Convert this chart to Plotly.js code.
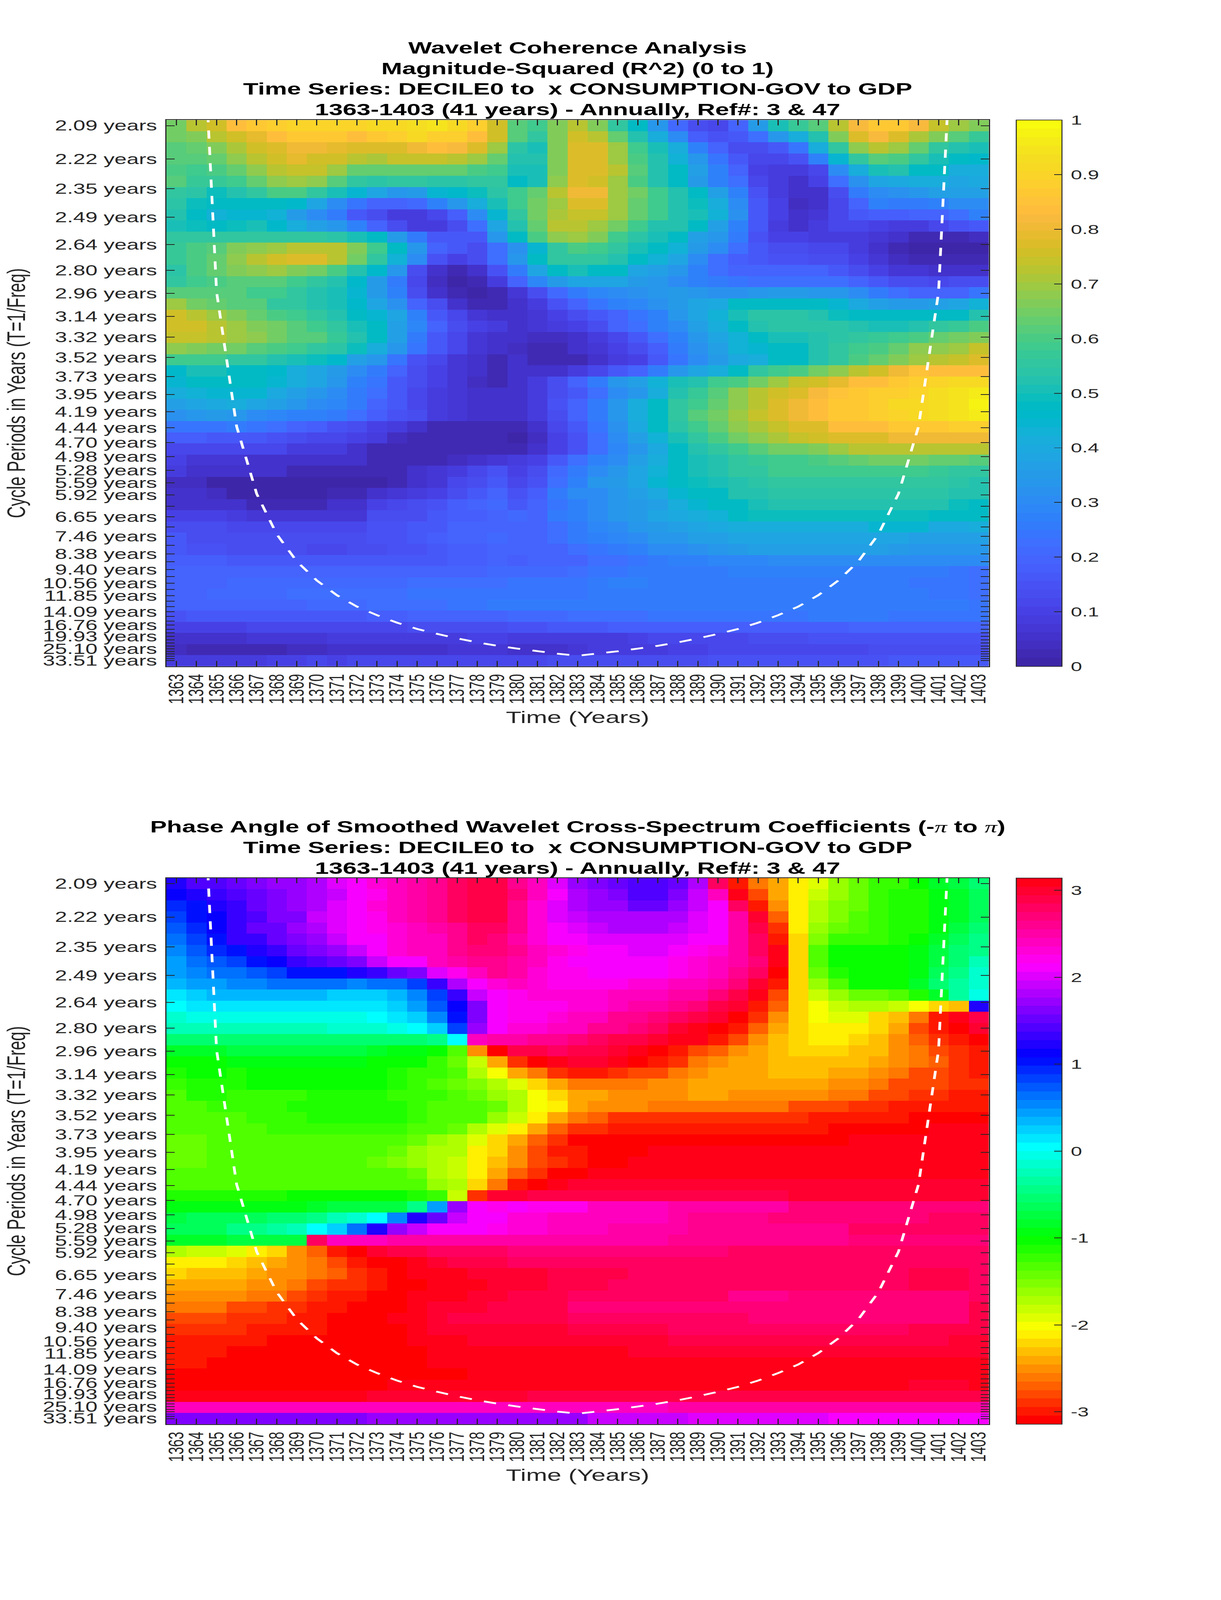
<!DOCTYPE html>
<html><head><meta charset="utf-8">
<script src="https://cdn.plot.ly/plotly-3.0.1.min.js"></script>
<style>html,body{margin:0;padding:0;background:#fff;overflow:hidden}</style></head>
<body><div id="chart" style="width:3125px;height:6252px"></div>
<script>
const years=[1363,1364,1365,1366,1367,1368,1369,1370,1371,1372,1373,1374,1375,1376,1377,1378,1379,1380,1381,1382,1383,1384,1385,1386,1387,1388,1389,1390,1391,1392,1393,1394,1395,1396,1397,1398,1399,1400,1401,1402,1403];
const periods=[2.09,2.22,2.35,2.49,2.64,2.80,2.96,3.14,3.32,3.52,3.73,3.95,4.19,4.44,4.70,4.98,5.28,5.59,5.92,6.27,6.65,7.04,7.46,7.90,8.38,8.87,9.40,9.96,10.56,11.18,11.85,12.55,13.30,14.09,14.93,15.82,16.76,17.76,18.81,19.93,21.12,22.37,23.70,25.10,26.60,28.18,29.86,31.63,33.51];
const periodLabels=["2.09 years","2.22 years","2.35 years","2.49 years","2.64 years","2.80 years","2.96 years","3.14 years","3.32 years","3.52 years","3.73 years","3.95 years","4.19 years","4.44 years","4.70 years","4.98 years","5.28 years","5.59 years","5.92 years","","6.65 years","","7.46 years","","8.38 years","","9.40 years","","10.56 years","","11.85 years","","","14.09 years","","","16.76 years","","","19.93 years","","","","25.10 years","","","","","33.51 years"];
const coiYears=[1364,1365,1366,1367,1368,1369,1370,1371,1372,1373,1374,1375,1376,1377,1378,1379,1380,1381,1382,1383,1384,1385,1386,1387,1388,1389,1390,1391,1392,1393,1394,1395,1396,1397,1398,1399,1400,1401,1402];
const coiPeriods=[1.47,2.95,4.42,5.89,7.36,8.84,10.3,11.8,13.3,14.7,16.2,17.7,19.1,20.6,22.1,23.6,25,26.5,28,29.4,28,26.5,25,23.6,22.1,20.6,19.1,17.7,16.2,14.7,13.3,11.8,10.3,8.84,7.36,5.89,4.42,2.95,1.47];
const coherence=[
[.65,.72,.76,.83,.86,.88,.9,.9,.9,.9,.91,.92,.93,.94,.92,.88,.76,.62,.58,.66,.72,.66,.56,.47,.33,.21,.13,.12,.2,.35,.5,.57,.62,.72,.82,.87,.87,.82,.74,.7,.67],
[.65,.66,.72,.76,.79,.84,.87,.87,.86,.84,.86,.88,.91,.89,.88,.84,.75,.62,.55,.67,.76,.73,.63,.53,.42,.3,.18,.15,.17,.22,.33,.42,.53,.67,.77,.82,.77,.71,.66,.61,.57],
[.62,.63,.66,.71,.76,.78,.81,.81,.79,.78,.77,.77,.81,.83,.82,.77,.69,.54,.51,.66,.77,.77,.7,.58,.5,.42,.28,.19,.13,.13,.17,.24,.42,.56,.68,.73,.7,.63,.56,.53,.5],
[.62,.62,.63,.68,.72,.76,.79,.76,.76,.73,.71,.74,.74,.74,.72,.7,.63,.53,.52,.66,.77,.78,.7,.6,.53,.43,.33,.24,.17,.12,.11,.15,.27,.44,.56,.62,.6,.56,.5,.47,.46],
[.6,.58,.6,.64,.68,.72,.74,.74,.7,.63,.63,.63,.63,.63,.63,.6,.58,.51,.51,.66,.77,.77,.72,.62,.52,.47,.37,.27,.19,.1,.08,.08,.12,.31,.42,.5,.52,.48,.47,.42,.42],
[.62,.57,.57,.59,.64,.68,.69,.68,.62,.56,.54,.55,.55,.54,.54,.56,.56,.48,.5,.68,.78,.76,.7,.6,.52,.47,.35,.28,.22,.11,.08,.06,.1,.23,.32,.38,.4,.42,.42,.38,.4],
[.56,.54,.49,.53,.56,.6,.6,.56,.5,.44,.38,.34,.35,.44,.46,.49,.54,.59,.63,.72,.8,.8,.7,.65,.58,.52,.47,.37,.27,.15,.08,.05,.06,.14,.25,.3,.32,.33,.36,.36,.37],
[.54,.49,.47,.47,.48,.47,.46,.38,.31,.24,.2,.19,.21,.28,.33,.42,.5,.58,.65,.7,.77,.77,.7,.63,.58,.52,.49,.42,.3,.16,.1,.04,.06,.12,.2,.27,.26,.26,.28,.3,.3],
[.53,.47,.43,.44,.45,.43,.35,.3,.26,.16,.13,.09,.09,.12,.18,.3,.44,.56,.65,.71,.74,.74,.7,.64,.58,.53,.5,.43,.32,.17,.1,.05,.07,.12,.16,.18,.18,.2,.2,.22,.28],
[.51,.49,.47,.49,.5,.46,.41,.36,.33,.28,.2,.13,.09,.09,.13,.22,.38,.52,.63,.72,.72,.7,.65,.58,.53,.52,.47,.37,.27,.16,.09,.06,.09,.12,.12,.1,.09,.09,.12,.15,.17],
[.56,.56,.56,.56,.56,.56,.56,.55,.54,.51,.47,.35,.25,.16,.16,.17,.33,.47,.6,.68,.69,.66,.58,.54,.51,.47,.37,.33,.25,.15,.1,.1,.09,.09,.09,.07,.05,.03,.03,.03,.04],
[.57,.6,.62,.66,.68,.7,.72,.73,.72,.67,.58,.47,.33,.2,.16,.14,.22,.32,.45,.55,.6,.58,.55,.5,.48,.43,.35,.3,.23,.17,.14,.13,.12,.11,.09,.06,.03,.01,.01,.01,.01],
[.57,.6,.64,.68,.72,.75,.77,.77,.72,.65,.55,.43,.3,.15,.1,.13,.22,.33,.47,.55,.56,.56,.53,.47,.43,.38,.3,.23,.18,.16,.15,.15,.14,.13,.1,.07,.04,.03,.03,.02,.03],
[.54,.6,.64,.67,.68,.7,.67,.65,.6,.52,.46,.33,.14,.05,.03,.05,.15,.26,.38,.47,.5,.48,.47,.39,.36,.33,.27,.22,.19,.19,.19,.19,.19,.17,.14,.1,.07,.07,.06,.05,.06],
[.55,.59,.6,.62,.62,.62,.58,.55,.53,.46,.35,.26,.12,.04,.01,.03,.08,.19,.29,.35,.38,.38,.38,.35,.33,.31,.27,.25,.24,.23,.23,.23,.23,.22,.19,.16,.13,.13,.12,.13,.13],
[.62,.62,.62,.62,.58,.58,.55,.53,.5,.44,.35,.28,.14,.06,.02,.01,.03,.07,.13,.21,.26,.29,.31,.32,.33,.35,.33,.32,.32,.34,.35,.35,.34,.33,.3,.26,.22,.2,.2,.2,.24],
[.7,.65,.63,.62,.62,.56,.55,.53,.5,.46,.38,.32,.2,.13,.06,.03,.02,.06,.08,.15,.2,.24,.27,.29,.32,.35,.38,.4,.47,.48,.48,.48,.48,.44,.4,.36,.35,.35,.37,.38,.43],
[.76,.72,.7,.67,.64,.6,.58,.55,.52,.48,.44,.38,.28,.17,.12,.07,.06,.06,.07,.1,.13,.17,.2,.24,.28,.33,.38,.43,.5,.54,.54,.54,.52,.49,.47,.47,.47,.48,.48,.47,.53],
[.76,.75,.72,.7,.67,.65,.62,.58,.55,.51,.47,.36,.29,.2,.14,.1,.08,.06,.07,.08,.1,.13,.19,.22,.28,.31,.37,.42,.47,.53,.54,.54,.54,.54,.52,.51,.5,.52,.55,.57,.6],
[.74,.74,.72,.7,.68,.65,.62,.62,.57,.53,.47,.37,.26,.17,.11,.07,.05,.05,.04,.04,.06,.09,.12,.17,.22,.28,.33,.38,.43,.47,.5,.51,.53,.54,.55,.57,.58,.6,.63,.65,.67],
[.68,.66,.65,.65,.62,.6,.58,.56,.54,.49,.42,.33,.24,.16,.11,.07,.05,.04,.03,.03,.05,.07,.1,.13,.18,.26,.32,.37,.43,.44,.47,.47,.52,.55,.58,.6,.64,.68,.68,.7,.74],
[.58,.58,.58,.55,.55,.53,.51,.49,.46,.37,.33,.24,.15,.11,.07,.05,.03,.05,.02,.03,.03,.05,.09,.1,.16,.24,.3,.35,.4,.42,.48,.48,.53,.56,.6,.64,.67,.7,.72,.74,.77],
[.46,.5,.5,.48,.47,.46,.42,.39,.35,.3,.25,.19,.14,.1,.07,.05,.03,.05,.05,.06,.08,.12,.16,.2,.26,.33,.38,.42,.47,.55,.58,.6,.65,.68,.72,.75,.8,.85,.83,.84,.84],
[.44,.47,.47,.47,.47,.45,.41,.38,.33,.28,.24,.17,.13,.1,.07,.04,.03,.05,.08,.13,.2,.25,.33,.37,.43,.5,.53,.58,.6,.65,.7,.74,.76,.79,.83,.84,.86,.88,.9,.91,.92],
[.41,.43,.45,.45,.45,.4,.37,.34,.31,.26,.22,.16,.12,.09,.07,.06,.05,.06,.08,.13,.17,.23,.3,.34,.42,.52,.57,.62,.68,.73,.76,.78,.82,.85,.87,.88,.89,.9,.93,.94,.96],
[.36,.39,.4,.41,.39,.37,.34,.31,.29,.25,.2,.16,.12,.09,.07,.05,.05,.06,.09,.15,.19,.26,.33,.41,.47,.55,.59,.63,.68,.73,.77,.8,.83,.86,.87,.89,.91,.92,.93,.95,.97],
[.32,.34,.35,.33,.31,.29,.28,.27,.26,.22,.18,.15,.13,.08,.07,.05,.05,.05,.09,.14,.19,.26,.33,.41,.47,.56,.61,.65,.7,.74,.77,.8,.84,.86,.87,.88,.9,.92,.93,.95,.96],
[.24,.24,.24,.25,.24,.22,.2,.18,.15,.13,.1,.08,.06,.03,.03,.03,.03,.03,.05,.12,.17,.24,.32,.4,.47,.54,.59,.63,.68,.71,.74,.77,.78,.83,.84,.84,.86,.87,.87,.88,.88],
[.18,.18,.16,.16,.16,.15,.13,.12,.11,.1,.08,.04,.03,.02,.02,.02,.02,.01,.04,.1,.15,.22,.3,.37,.43,.5,.56,.6,.65,.68,.71,.74,.75,.77,.78,.78,.81,.81,.81,.81,.81],
[.12,.12,.12,.12,.11,.11,.09,.08,.08,.06,.03,.02,.02,.02,.02,.02,.03,.03,.06,.1,.15,.22,.29,.33,.4,.48,.52,.55,.58,.62,.65,.65,.67,.7,.72,.72,.72,.73,.73,.73,.73],
[.1,.07,.07,.07,.06,.05,.05,.05,.05,.05,.03,.02,.02,.02,.04,.06,.07,.08,.1,.17,.23,.27,.31,.36,.42,.48,.51,.52,.56,.57,.58,.59,.6,.62,.64,.65,.65,.65,.63,.63,.62],
[.08,.05,.05,.05,.05,.05,.02,.02,.02,.02,.02,.02,.05,.07,.09,.12,.15,.1,.14,.21,.26,.31,.33,.38,.43,.48,.5,.52,.55,.56,.58,.59,.59,.59,.59,.59,.59,.59,.57,.56,.56],
[.04,.04,.01,.01,.01,.01,.01,.01,.01,.01,.01,.03,.05,.07,.12,.14,.17,.11,.15,.23,.28,.33,.35,.39,.44,.47,.49,.5,.53,.54,.56,.56,.56,.56,.56,.56,.56,.56,.55,.54,.53],
[.05,.05,.04,0,0,0,.01,.01,.03,.03,.05,.07,.08,.1,.13,.16,.19,.15,.18,.25,.31,.31,.34,.36,.4,.44,.47,.48,.53,.53,.54,.54,.54,.54,.54,.54,.54,.54,.54,.53,.52],
[.05,.05,.05,.05,.03,.03,.03,.03,.05,.06,.1,.11,.13,.15,.18,.2,.21,.17,.2,.24,.28,.3,.33,.35,.37,.41,.45,.47,.48,.5,.53,.53,.52,.52,.52,.52,.52,.52,.52,.49,.48],
[.1,.1,.1,.08,.07,.07,.07,.07,.07,.07,.13,.13,.14,.17,.18,.18,.2,.21,.2,.25,.28,.31,.33,.35,.38,.4,.41,.43,.47,.49,.49,.49,.49,.49,.49,.49,.49,.49,.47,.47,.47],
[.13,.13,.13,.12,.11,.11,.11,.11,.11,.12,.15,.15,.16,.17,.19,.19,.2,.2,.2,.22,.26,.29,.31,.33,.35,.36,.38,.4,.41,.41,.42,.42,.42,.42,.42,.44,.44,.44,.4,.4,.42],
[.16,.14,.14,.14,.13,.13,.13,.13,.14,.14,.15,.15,.16,.18,.2,.2,.21,.2,.2,.22,.25,.27,.29,.31,.33,.34,.36,.37,.38,.39,.39,.39,.39,.39,.39,.39,.38,.36,.36,.37,.37],
[.16,.15,.15,.14,.14,.14,.14,.12,.12,.14,.14,.15,.15,.17,.18,.18,.2,.19,.2,.2,.22,.24,.26,.27,.3,.31,.32,.33,.35,.36,.36,.36,.36,.36,.36,.36,.35,.34,.34,.34,.34],
[.18,.18,.18,.17,.16,.16,.16,.16,.16,.16,.16,.17,.17,.17,.18,.18,.19,.18,.19,.19,.2,.22,.23,.24,.26,.27,.27,.29,.29,.29,.3,.31,.31,.31,.3,.3,.3,.3,.3,.3,.3],
[.19,.19,.19,.19,.19,.19,.19,.19,.19,.19,.19,.19,.2,.2,.2,.2,.21,.21,.21,.21,.22,.24,.24,.25,.26,.26,.26,.26,.27,.27,.27,.27,.28,.28,.26,.26,.26,.25,.25,.24,.23],
[.2,.2,.2,.21,.21,.21,.21,.21,.21,.21,.21,.21,.23,.23,.23,.23,.23,.24,.24,.24,.24,.25,.27,.27,.26,.26,.26,.26,.26,.26,.26,.26,.26,.26,.26,.25,.25,.24,.24,.24,.22],
[.2,.2,.21,.21,.21,.21,.22,.22,.22,.22,.22,.23,.24,.24,.24,.24,.24,.24,.24,.24,.24,.25,.25,.26,.26,.26,.26,.26,.26,.26,.26,.26,.26,.26,.26,.25,.25,.25,.24,.24,.23],
[.19,.19,.2,.2,.2,.2,.2,.21,.21,.21,.22,.23,.23,.23,.24,.24,.25,.25,.25,.25,.25,.26,.26,.26,.26,.26,.26,.25,.25,.25,.25,.25,.25,.25,.25,.25,.25,.25,.25,.25,.24],
[.15,.17,.17,.17,.17,.17,.17,.17,.17,.17,.18,.18,.19,.19,.2,.2,.2,.21,.21,.21,.22,.23,.23,.23,.24,.24,.24,.24,.24,.24,.24,.24,.25,.25,.25,.25,.24,.24,.24,.24,.24],
[.1,.1,.1,.1,.11,.11,.11,.11,.11,.11,.12,.12,.13,.13,.14,.14,.14,.15,.15,.16,.16,.16,.18,.18,.18,.18,.18,.18,.18,.18,.18,.18,.18,.18,.19,.19,.19,.19,.19,.19,.19],
[.06,.06,.06,.06,.07,.07,.07,.07,.08,.08,.08,.08,.09,.09,.09,.1,.1,.08,.08,.08,.09,.09,.09,.1,.11,.12,.12,.12,.12,.13,.14,.14,.15,.15,.15,.15,.15,.15,.15,.15,.15],
[.04,.03,.03,.03,.03,.03,.04,.04,.05,.05,.05,.05,.06,.06,.07,.07,.07,.06,.05,.05,.07,.08,.08,.09,.09,.1,.1,.11,.11,.12,.12,.12,.12,.12,.12,.13,.13,.13,.13,.13,.13],
[.08,.09,.09,.09,.09,.1,.1,.11,.1,.11,.11,.11,.11,.12,.12,.12,.12,.12,.12,.13,.13,.13,.13,.13,.14,.14,.14,.15,.15,.15,.15,.15,.15,.15,.15,.15,.16,.16,.16,.16,.16]
];
const phase=[
[1.2,1.45,1.45,1.55,1.65,1.7,1.75,1.85,2.05,2.1,2.27,2.4,2.5,2.6,2.75,2.88,2.93,2.6,2.4,2.0,1.75,1.65,1.55,1.4,1.38,1.55,1.85,2.75,-2.95,-2.65,-2.4,-2.15,-1.9,-1.65,-1.4,-1.25,-1.2,-1,-.85,-.75,-.55],
[1.1,1.2,1.3,1.4,1.55,1.6,1.7,1.85,1.95,2.1,2.25,2.4,2.5,2.6,2.75,2.85,2.85,2.7,2.4,2.1,1.85,1.7,1.6,1.45,1.4,1.65,1.95,2.4,3.1,-2.8,-2.45,-2.15,-1.85,-1.6,-1.4,-1.25,-1.15,-1.1,-.9,-.8,-.6],
[.95,1.05,1.25,1.35,1.5,1.6,1.7,1.85,2,2.1,2.3,2.4,2.5,2.6,2.75,2.9,2.9,2.65,2.3,2.05,1.85,1.72,1.72,1.55,1.55,1.75,1.92,2.1,2.75,-3,-2.55,-2.09,-1.75,-1.5,-1.4,-1.25,-1.15,-1.1,-.9,-.85,-.65],
[.88,1.05,1.15,1.35,1.45,1.6,1.65,1.95,2.05,2.12,2.25,2.4,2.5,2.6,2.8,2.85,2.85,2.6,2.3,1.98,1.92,1.85,1.78,1.78,1.78,1.78,2,2.1,2.5,3,-2.7,-2.09,-1.7,-1.5,-1.35,-1.22,-1.12,-1.08,-.95,-.8,-.6],
[.75,.98,1.12,1.28,1.48,1.55,1.68,1.78,2.03,2.12,2.22,2.32,2.45,2.5,2.65,2.78,2.78,2.58,2.35,2.08,2.02,1.92,1.85,1.85,1.85,1.88,2,2.1,2.5,2.85,-2.85,-2.09,-1.6,-1.4,-1.32,-1.25,-1.15,-1.08,-.9,-.7,-.55],
[.68,.85,1.05,1.28,1.35,1.5,1.62,1.72,1.95,2.1,2.15,2.3,2.4,2.45,2.62,2.78,2.72,2.52,2.3,2.12,2.08,2.02,2.02,2.02,2.02,2.02,2.12,2.12,2.5,2.78,-2.95,-2.2,-1.55,-1.25,-1.25,-1.2,-1.08,-1.05,-.85,-.65,-.48],
[.58,.75,.95,1.05,1.2,1.32,1.48,1.58,1.68,1.95,2.12,2.28,2.4,2.45,2.6,2.7,2.7,2.6,2.4,2.28,2.18,2.12,2.12,2.05,2.05,2.12,2.18,2.28,2.5,2.75,3.08,-2.25,-1.33,-1.05,-1.05,-1.05,-1.05,-.95,-.75,-.58,-.4],
[.45,.62,.75,.85,1.05,1.15,1.35,1.42,1.55,1.65,1.92,2.12,2.12,2.42,2.52,2.65,2.6,2.52,2.4,2.25,2.12,2.1,2.1,2.1,2.1,2.18,2.28,2.4,2.5,2.72,3.1,-2.25,-1.33,-1.05,-1.05,-1.05,-1.05,-.95,-.7,-.5,-.28],
[.4,.5,.62,.68,.75,.82,1.05,1.05,1.05,1.2,1.32,1.48,1.65,2,2.22,2.4,2.6,2.55,2.35,2.25,2.18,2.12,2.12,2.12,2.12,2.25,2.35,2.45,2.6,2.78,-3.14,-2.25,-1.42,-1.15,-1.05,-1.05,-1.05,-.9,-.65,-.42,-.18],
[.3,.4,.48,.55,.55,.62,.62,.62,.62,.55,.62,.68,.85,1.32,1.8,2.12,2.28,2.4,2.32,2.25,2.25,2.22,2.22,2.3,2.32,2.4,2.42,2.55,2.72,3,-2.95,-2.25,-1.65,-1.33,-1.02,-1.02,-1.02,-.88,-.58,-.35,-.1],
[.1,.25,.3,.33,.33,.33,.33,.33,.2,.2,.2,.33,.55,.85,1.32,1.92,2.12,2.25,2.32,2.32,2.32,2.32,2.42,2.42,2.42,2.5,2.55,2.7,2.9,3.1,-2.75,-2.25,-1.85,-1.6,-1.42,-1.42,-1.32,-1.15,-.85,-.38,-.05],
[0,.1,.1,.1,.1,.1,.1,.1,.1,.1,.1,.25,.48,.7,1.12,1.62,2.12,2.18,2.18,2.22,2.32,2.32,2.45,2.5,2.55,2.6,2.7,2.85,3,-3,-2.7,-2.25,-1.98,-1.85,-1.75,-1.75,-1.85,-2,-2.18,-2.3,1.2],
[-.1,-.08,-.08,-.08,-.08,-.08,-.08,-.08,-.08,-.08,0,.1,.25,.55,1.05,1.65,2.12,2.18,2.25,2.32,2.4,2.42,2.6,2.65,2.72,2.78,2.85,3,-3.14,-2.85,-2.55,-2.25,-2,-1.95,-1.95,-2.18,-2.32,-2.6,-2.95,3.05,2.9],
[-.25,-.25,-.25,-.25,-.25,-.25,-.25,-.25,-.18,-.18,-.18,-.08,0,.2,.82,1.68,2.12,2.28,2.32,2.42,2.45,2.6,2.65,2.72,2.8,3,3.05,-3.14,-2.95,-2.68,-2.45,-2.25,-2.15,-2.15,-2.15,-2.25,-2.45,-2.75,-3,-3.14,3],
[-.55,-.55,-.55,-.55,-.55,-.55,-.55,-.55,-.55,-.55,-.55,-.55,-.55,-.45,0,2.4,2.5,2.55,2.6,2.65,2.72,2.78,2.85,2.92,3,3.1,3.14,-2.95,-2.75,-2.55,-2.32,-2.22,-2.15,-2.15,-2.22,-2.32,-2.55,-2.68,-2.85,-3,-3.14],
[-.85,-.85,-.82,-.72,-.72,-.72,-.72,-.72,-.72,-.72,-.85,-.92,-.95,-1.05,-1.3,-2.55,-3.14,2.85,2.92,2.8,2.88,2.92,3,3.05,-3.14,-3,-2.8,-2.72,-2.5,-2.38,-2.28,-2.2,-2.2,-2.2,-2.3,-2.3,-2.5,-2.65,-2.75,-2.92,-2.95],
[-1.02,-1.02,-1.02,-.98,-.98,-.98,-.98,-.98,-.98,-.98,-1,-1,-1.05,-1.18,-1.42,-1.85,-2.45,-2.92,-3.14,3.05,3.02,3.02,3.12,-3.05,-2.95,-2.85,-2.65,-2.5,-2.42,-2.38,-2.3,-2.3,-2.3,-2.3,-2.3,-2.42,-2.5,-2.65,-2.72,-2.85,-2.95],
[-1.12,-1.05,-1.05,-1.08,-1.05,-1.05,-1.05,-1.05,-1.05,-1.05,-1.05,-1.1,-1.18,-1.25,-1.35,-1.72,-1.98,-2.38,-2.65,-2.85,-2.95,-2.95,-2.85,-2.75,-2.75,-2.62,-2.5,-2.42,-2.42,-2.42,-2.32,-2.32,-2.32,-2.45,-2.45,-2.52,-2.65,-2.75,-2.8,-2.85,-2.95],
[-1.18,-1.08,-1.08,-1.08,-1.05,-1.05,-1.05,-1.05,-1.05,-1.05,-1.05,-1.15,-1.25,-1.3,-1.38,-1.5,-1.68,-1.95,-2.22,-2.45,-2.62,-2.62,-2.62,-2.62,-2.5,-2.5,-2.45,-2.45,-2.45,-2.45,-2.45,-2.45,-2.45,-2.55,-2.55,-2.62,-2.78,-2.82,-2.82,-2.85,-2.92],
[-1.3,-1.15,-1.15,-1.18,-1.18,-1.18,-1.18,-1.08,-1.08,-1.08,-1.08,-1.18,-1.18,-1.25,-1.32,-1.4,-1.6,-1.75,-1.98,-2.22,-2.45,-2.45,-2.5,-2.5,-2.5,-2.5,-2.45,-2.45,-2.55,-2.55,-2.55,-2.55,-2.55,-2.65,-2.65,-2.75,-2.75,-2.85,-2.85,-2.95,-2.95],
[-1.32,-1.3,-1.2,-1.2,-1.2,-1.18,-1.15,-1.15,-1.15,-1.15,-1.15,-1.15,-1.2,-1.3,-1.32,-1.32,-1.42,-1.7,-1.98,-2.15,-2.45,-2.55,-2.55,-2.55,-2.65,-2.65,-2.65,-2.65,-2.65,-2.65,-2.65,-2.75,-2.75,-2.75,-2.85,-2.85,-2.95,-2.95,-2.95,-3,-3],
[-1.35,-1.3,-1.3,-1.3,-1.25,-1.25,-1.2,-1.15,-1.15,-1.15,-1.15,-1.15,-1.25,-1.3,-1.3,-1.32,-1.63,-1.85,-2.15,-2.45,-2.62,-2.72,-2.85,-2.85,-2.85,-2.85,-2.85,-2.85,-2.85,-2.85,-2.85,-2.85,-2.95,-2.95,-2.95,-3,-3,-3.05,-3.12,-3.12,-3.12],
[-1.35,-1.35,-1.32,-1.32,-1.32,-1.25,-1.25,-1.25,-1.25,-1.25,-1.25,-1.25,-1.3,-1.3,-1.38,-1.7,-1.88,-2.15,-2.45,-2.72,-2.92,-2.92,-3,-3,-3,-3,-3,-3,-3,-3,-3,-3,-3,-3.1,-3.1,-3.1,-3.1,-3.1,3.08,3.08,3.08],
[-1.38,-1.38,-1.35,-1.35,-1.35,-1.35,-1.35,-1.35,-1.35,-1.35,-1.35,-1.35,-1.45,-1.58,-1.7,-1.92,-2.18,-2.45,-2.7,-2.9,-3.05,-3.05,-3.12,-3.12,-3.12,-3.12,-3.12,-3.12,-3.12,-3.12,-3.12,-3.12,-3.12,-3.12,3.12,3.1,3.1,3.1,3.08,3.08,3.08],
[-1.38,-1.38,-1.35,-1.35,-1.35,-1.35,-1.35,-1.35,-1.35,-1.35,-1.35,-1.45,-1.58,-1.68,-1.75,-2.09,-2.25,-2.55,-2.78,-2.95,-3,-3.14,-3.14,-3.14,3.1,3.08,3.08,3.08,3.08,3.08,3.08,3.08,3.08,3.08,3.08,3.08,3.08,3.08,3.05,3.05,3.05],
[-1.45,-1.38,-1.35,-1.35,-1.35,-1.35,-1.35,-1.35,-1.35,-1.35,-1.45,-1.48,-1.6,-1.7,-1.85,-2.09,-2.32,-2.55,-2.8,-2.92,-3.02,-3.14,-3.14,3.08,3.08,3.08,3.08,3.08,3.08,3.08,3.08,3.08,3.08,3.05,3.05,3.05,3.05,3.05,3.05,3.05,3.05],
[-1.35,-1.35,-1.35,-1.35,-1.35,-1.35,-1.35,-1.35,-1.35,-1.35,-1.35,-1.32,-1.42,-1.68,-1.85,-2.09,-2.45,-2.72,-2.92,-3.05,-3.14,3.08,3.08,3.08,3.05,3.05,3.05,3.05,3.05,3.05,3.05,3.05,3.05,3.05,3.05,3.05,3.05,3.05,3.05,3.05,3.05],
[-1.32,-1.28,-1.28,-1.28,-1.28,-1.28,-1.28,-1.28,-1.28,-1.28,-1.28,-1.3,-1.35,-1.58,-1.75,-2.25,-2.65,-2.95,-3.14,3.08,3,3,3,2.96,2.96,2.96,2.96,2.96,2.96,2.96,2.96,2.96,2.96,2.96,2.96,2.96,2.96,2.96,2.96,2.96,2.96],
[-1.12,-1.12,-1.12,-1.12,-1.12,-1.12,-1.05,-1.05,-1.05,-1.05,-1.05,-1.05,-1.15,-1.25,-1.85,-2.85,2.95,2.95,2.92,2.88,2.88,2.88,2.88,2.88,2.88,2.88,2.88,2.88,2.88,2.88,2.88,2.95,2.95,2.95,2.95,2.95,2.95,2.95,2.95,2.95,2.95],
[-.9,-.9,-.9,-.9,-.9,-.9,-.9,-.82,-.78,-.72,-.72,-.7,-.42,.45,1.75,2.12,2.18,2.1,2.25,2.25,2.25,2.38,2.38,2.38,2.38,2.55,2.55,2.55,2.55,2.55,2.55,2.7,2.7,2.7,2.7,2.7,2.7,2.7,2.7,2.7,2.7],
[-.75,-.68,-.68,-.68,-.68,-.58,-.55,-.42,-.28,-.12,.08,.55,1.18,1.55,1.9,2.12,2.15,2.28,2.3,2.38,2.38,2.4,2.42,2.45,2.45,2.55,2.6,2.6,2.6,2.6,2.7,2.72,2.72,2.72,2.72,2.72,2.72,2.72,2.8,2.8,2.8],
[-.62,-.62,-.62,-.48,-.48,-.38,-.28,0,.28,.68,1.22,1.68,1.9,2.1,2.1,2.12,2.2,2.28,2.3,2.38,2.38,2.4,2.5,2.5,2.5,2.55,2.64,2.64,2.64,2.64,2.64,2.64,2.64,2.64,2.75,2.75,2.75,2.75,2.75,2.75,2.75],
[-.88,-.88,-.88,-.78,-.78,-.78,-.78,2.78,2.45,2.45,2.45,2.55,2.55,2.55,2.55,2.55,2.55,2.52,2.48,2.48,2.48,2.48,2.48,2.48,2.48,2.6,2.6,2.6,2.6,2.6,2.6,2.6,2.6,2.6,2.72,2.72,2.72,2.72,2.72,2.72,2.72],
[-1.7,-1.78,-1.78,-1.88,-2.09,-2.25,-2.55,-2.72,-2.95,-3.14,3,2.9,2.88,2.82,2.82,2.8,2.8,2.7,2.7,2.7,2.7,2.7,2.7,2.7,2.7,2.7,2.7,2.7,2.75,2.75,2.75,2.75,2.75,2.75,2.75,2.75,2.75,2.75,2.75,2.75,2.8],
[-2.15,-2.15,-2.15,-2.25,-2.32,-2.45,-2.55,-2.65,-2.75,-2.95,-3.05,-3.14,3.08,3,2.92,2.92,2.9,2.82,2.82,2.75,2.75,2.75,2.75,2.75,2.75,2.75,2.75,2.75,2.75,2.75,2.75,2.75,2.75,2.75,2.75,2.75,2.75,2.75,2.75,2.75,2.8],
[-2.25,-2.32,-2.32,-2.32,-2.45,-2.5,-2.55,-2.65,-2.72,-2.9,-2.95,-3.05,3.12,3.1,3.05,3,3,2.95,2.95,2.85,2.85,2.85,2.85,2.75,2.75,2.75,2.75,2.75,2.75,2.75,2.75,2.75,2.75,2.75,2.75,2.75,2.75,2.85,2.85,2.85,2.8],
[-2.45,-2.45,-2.45,-2.45,-2.55,-2.55,-2.65,-2.75,-2.85,-2.85,-2.95,-3.05,-3.14,3.08,3.08,3.05,3,2.95,2.95,2.88,2.88,2.88,2.75,2.75,2.75,2.75,2.75,2.75,2.75,2.75,2.75,2.75,2.75,2.75,2.75,2.75,2.75,2.85,2.85,2.85,2.8],
[-2.55,-2.55,-2.55,-2.55,-2.65,-2.65,-2.75,-2.9,-2.95,-2.95,-3.05,-3.14,3.08,3.05,3.05,3,2.95,2.9,2.88,2.88,2.8,2.75,2.75,2.75,2.75,2.75,2.75,2.75,2.65,2.65,2.65,2.72,2.72,2.72,2.72,2.72,2.72,2.72,2.72,2.72,2.8],
[-2.65,-2.65,-2.65,-2.75,-2.75,-2.85,-2.85,-2.95,-2.95,-3.05,-3.14,-3.14,3.05,3,2.95,2.95,2.9,2.85,2.85,2.85,2.72,2.72,2.72,2.72,2.72,2.66,2.66,2.66,2.66,2.66,2.66,2.66,2.66,2.66,2.66,2.72,2.72,2.72,2.72,2.72,2.85],
[-2.75,-2.75,-2.75,-2.85,-2.85,-2.85,-2.95,-2.95,-3.05,-3.12,-3.12,3.05,3.05,2.95,2.92,2.9,2.9,2.9,2.85,2.85,2.8,2.75,2.75,2.75,2.75,2.75,2.75,2.75,2.75,2.68,2.68,2.68,2.72,2.72,2.72,2.72,2.72,2.72,2.72,2.72,2.85],
[-2.85,-2.85,-2.85,-2.85,-2.95,-2.95,-2.95,-2.95,-3.05,-3.12,-3.12,-3.12,3.1,3,3,3,3,2.98,2.95,2.95,2.9,2.9,2.9,2.9,2.9,2.82,2.82,2.82,2.82,2.82,2.82,2.82,2.82,2.82,2.82,2.82,2.82,2.88,2.88,2.88,2.88],
[-2.95,-2.95,-2.95,-2.95,-2.95,-3.05,-3.05,-3.05,-3.05,-3.13,-3.13,-3.13,3.1,3.05,3.05,3,3,3,3,2.95,2.95,2.95,2.95,2.95,2.95,2.9,2.9,2.9,2.9,2.9,2.9,2.9,2.9,2.9,2.9,2.9,2.9,2.9,2.9,2.95,2.95],
[-2.95,-2.95,-2.95,-3.05,-3.05,-3.05,-3.05,-3.05,-3.1,-3.14,-3.14,-3.14,-3.14,3.12,3.1,3.1,3.1,3.05,3.05,3.05,3.05,3.05,3.05,3,3,3,3,3,3,3,3,3,3,3,3,3,3,3,3,3,3],
[-2.95,-2.95,-3.05,-3.05,-3.05,-3.05,-3.05,-3.05,-3.05,-3.14,-3.14,-3.14,-3.14,3.14,3.12,3.12,3.12,3.1,3.1,3.1,3.06,3.06,3.06,3.06,3.06,3.06,3.06,3.06,3.06,3.06,3.06,3.06,3.06,3.06,3.06,3.06,3.06,3.06,3.06,3.06,3.06],
[-3.05,-3.05,-3.05,-3.05,-3.05,-3.05,-3.05,-3.05,-3.05,-3.14,-3.14,-3.14,-3.14,-3.14,-3.14,3.12,3.12,3.12,3.12,3.12,3.12,3.12,3.06,3.06,3.06,3.06,3.06,3.06,3.06,3.06,3.06,3.06,3.06,3.06,3.06,3.06,3.06,3.06,3.06,3.06,3.06],
[-3.05,-3.05,-3.05,-3.05,-3.13,-3.13,-3.13,-3.13,-3.13,-3.13,-3.13,3.12,3.12,3.12,3.12,3.12,3.12,3.12,3.08,3.08,3.08,3.08,3.08,3.08,3.08,3.08,3.08,3.08,3.08,3.08,3.08,3.08,3.08,3.08,3.08,3.08,3.08,3,3,3,3.05],
[3.13,3.13,3.13,3.05,3.05,3.05,3.05,3.05,3.05,3.05,3.02,3.02,3.02,3.02,3.02,3.02,3.02,3,2.92,2.92,2.92,2.92,2.92,2.92,2.92,2.92,2.92,2.92,2.92,2.92,2.92,2.92,2.92,2.92,2.92,2.92,2.92,2.92,2.92,2.92,2.92],
[2.38,2.38,2.38,2.38,2.38,2.38,2.38,2.38,2.38,2.38,2.38,2.38,2.38,2.38,2.38,2.45,2.45,2.45,2.45,2.45,2.45,2.45,2.45,2.45,2.45,2.5,2.5,2.5,2.5,2.5,2.5,2.5,2.5,2.5,2.5,2.5,2.5,2.5,2.5,2.5,2.5],
[1.58,1.58,1.58,1.58,1.58,1.58,1.58,1.58,1.58,1.58,1.68,1.68,1.68,1.68,1.68,1.68,1.72,1.72,1.72,1.72,1.75,1.9,1.9,1.9,1.9,1.9,2,2,2,2,2,2,2,2.1,2.1,2.1,2.1,2.1,2.1,2.1,2.1]
];
const parulaRGB=[[.2422,.1504,.6603],[.2504,.1650,.7076],[.2578,.1818,.7511],[.2647,.1978,.7952],[.2706,.2147,.8364],[.2751,.2342,.8710],[.2783,.2559,.8991],[.2803,.2782,.9221],[.2813,.3006,.9414],[.2810,.3228,.9579],[.2795,.3447,.9717],[.2760,.3667,.9829],[.2699,.3892,.9906],[.2602,.4123,.9952],[.2440,.4358,.9988],[.2206,.4603,.9973],[.1963,.4847,.9892],[.1834,.5074,.9798],[.1786,.5289,.9682],[.1764,.5499,.9520],[.1687,.5703,.9359],[.1540,.5902,.9218],[.1460,.6091,.9079],[.1380,.6276,.8973],[.1248,.6459,.8883],[.1113,.6635,.8763],[.0952,.6798,.8598],[.0689,.6948,.8394],[.0297,.7082,.8163],[.0036,.7203,.7917],[.0067,.7312,.7660],[.0433,.7411,.7394],[.0964,.7500,.7120],[.1408,.7584,.6842],[.1717,.7670,.6554],[.1938,.7758,.6251],[.2161,.7843,.5923],[.2470,.7918,.5567],[.2906,.7973,.5188],[.3406,.8008,.4789],[.3909,.8029,.4354],[.4456,.8024,.3909],[.5044,.7993,.3480],[.5616,.7942,.3045],[.6174,.7876,.2612],[.6720,.7793,.2227],[.7242,.7698,.1910],[.7738,.7598,.1646],[.8203,.7498,.1535],[.8634,.7406,.1596],[.9035,.7330,.1774],[.9393,.7288,.2100],[.9728,.7298,.2394],[.9956,.7434,.2371],[.9970,.7659,.2199],[.9952,.7861,.1999],[.9892,.8085,.1794],[.9786,.8319,.1565],[.9676,.8525,.1409],[.9626,.8705,.1309],[.9589,.8949,.1132],[.9598,.9218,.0948],[.9661,.9514,.0755],[.9763,.9831,.0538]];
function stepScale(cols){const n=cols.length,o=[];cols.forEach((c,i)=>{o.push([i/n,c]);o.push([(i+1)/n,c]);});return o;}
const parulaScale=stepScale(parulaRGB.map(c=>`rgb(${Math.round(c[0]*255)},${Math.round(c[1]*255)},${Math.round(c[2]*255)})`));
const hsvScale=stepScale(Array.from({length:64},(_,i)=>`hsl(${i/64*360},100%,50%)`));

const W=3125,H=6252,L=426,R=2530.5,INK='#262626',FONT='"Liberation Sans",Arial,sans-serif';
const boxes=[{top:469,bottom:2603.6},{top:3431,bottom:5565}];
const n=periods.length,fTop=1/periods[0],fBot=1/periods[n-1],df=(fTop-fBot)/(n-1);
const rowF=periods.map((_,i)=>fTop-i*df);

function xax(b,anchor){return {domain:[L/W,R/W],anchor,range:[1362.5,1403.5],tickmode:'array',tickvals:years,ticktext:years.map(String),tickangle:-90,
 ticks:'inside',ticklen:21,tickwidth:2.5,tickcolor:INK,showline:true,linewidth:2.5,linecolor:INK,mirror:'ticks',showgrid:false,zeroline:false,
 tickfont:{family:FONT,size:53,color:INK},ticklabelstandoff:6,title:{text:'Time (Years)',font:{family:FONT,size:65,color:INK},standoff:30}};}
function yax(b,anchor){return {domain:[1-b.bottom/H,1-b.top/H],anchor,range:[fBot-df/2,fTop+df/2],tickmode:'array',tickvals:periods.map(p=>1/p),ticktext:periodLabels,
 ticks:'inside',ticklen:21,tickwidth:2.5,tickcolor:INK,showline:true,linewidth:2.5,linecolor:INK,mirror:'ticks',showgrid:false,zeroline:false,
 tickfont:{family:FONT,size:56,color:INK},ticklabelstandoff:10,title:{text:'Cycle Periods in Years (T=1/Freq)',font:{family:FONT,size:65,color:INK},standoff:24}};}
function cbar(b,vals){return {x:2601/W,xanchor:'left',xpad:0,ypad:0,y:1-b.top/H,yanchor:'top',len:(b.bottom-b.top)/H,lenmode:'fraction',thickness:117,thicknessmode:'pixels',
 tickmode:'array',tickvals:vals,ticktext:vals.map(v=>'\u2009'+v),ticks:'inside',ticklen:21,tickwidth:2.5,tickcolor:INK,outlinewidth:2.5,outlinecolor:INK,
 tickfont:{family:FONT,size:52,color:INK}};}
const coiF=coiPeriods.map(p=>1/p);
const coiLine={color:'#fff',width:7,dash:'32px,32px'};
const data=[
 {type:'heatmap',x:years,y:rowF,z:coherence,zmin:0,zmax:1,colorscale:parulaScale,colorbar:cbar(boxes[0],[0,.1,.2,.3,.4,.5,.6,.7,.8,.9,1]),xaxis:'x',yaxis:'y'},
 {type:'scatter',mode:'lines',x:coiYears,y:coiF,line:coiLine,xaxis:'x',yaxis:'y',showlegend:false,hoverinfo:'skip'},
 {type:'heatmap',x:years,y:rowF,z:phase,zmin:-Math.PI,zmax:Math.PI,colorscale:hsvScale,colorbar:cbar(boxes[1],[-3,-2,-1,0,1,2,3]),xaxis:'x2',yaxis:'y2'},
 {type:'scatter',mode:'lines',x:coiYears,y:coiF,line:coiLine,xaxis:'x2',yaxis:'y2',showlegend:false,hoverinfo:'skip'}
];
const pi='<span style="font-family:\'Liberation Serif\';font-weight:normal"><i>π</i></span>';
const titles=[
 ['Wavelet Coherence Analysis',187],['Magnitude-Squared (R^2) (0 to 1)',268],['Time Series: DECILE0 to  x CONSUMPTION-GOV to GDP',348],['1363-1403 (41 years) - Annually, Ref#: 3 &amp; 47',429],
 ['Phase Angle of Smoothed Wavelet Cross-Spectrum Coefficients (-'+pi+' to '+pi+')',3230],['Time Series: DECILE0 to  x CONSUMPTION-GOV to GDP',3311],['1363-1403 (41 years) - Annually, Ref#: 3 &amp; 47',3393]
];
const layout={width:W,height:H,margin:{l:0,r:0,t:0,b:0,pad:0},paper_bgcolor:'#fff',plot_bgcolor:'#fff',showlegend:false,
 xaxis:xax(boxes[0],'y'),yaxis:yax(boxes[0],'x'),xaxis2:xax(boxes[1],'y2'),yaxis2:yax(boxes[1],'x2'),
 annotations:titles.map(t=>({text:'<b>'+t[0]+'</b>',xref:'paper',yref:'paper',x:(L+R)/2/W,y:1-t[1]/H,xanchor:'center',yanchor:'middle',showarrow:false,font:{family:FONT,size:64,color:'#000'}}))};
Plotly.newPlot('chart',data,layout,{displayModeBar:false,responsive:false}).then(()=>{
 // The layout is always the reference's 3125x6252. If the real window is shorter, compress it vertically so the whole chart stays in frame.
 if(window.innerHeight<H){const el=document.getElementById('chart');el.style.transformOrigin='0 0';el.style.transform='scale(1,'+(window.innerHeight/H)+')';}
});
</script></body></html>
